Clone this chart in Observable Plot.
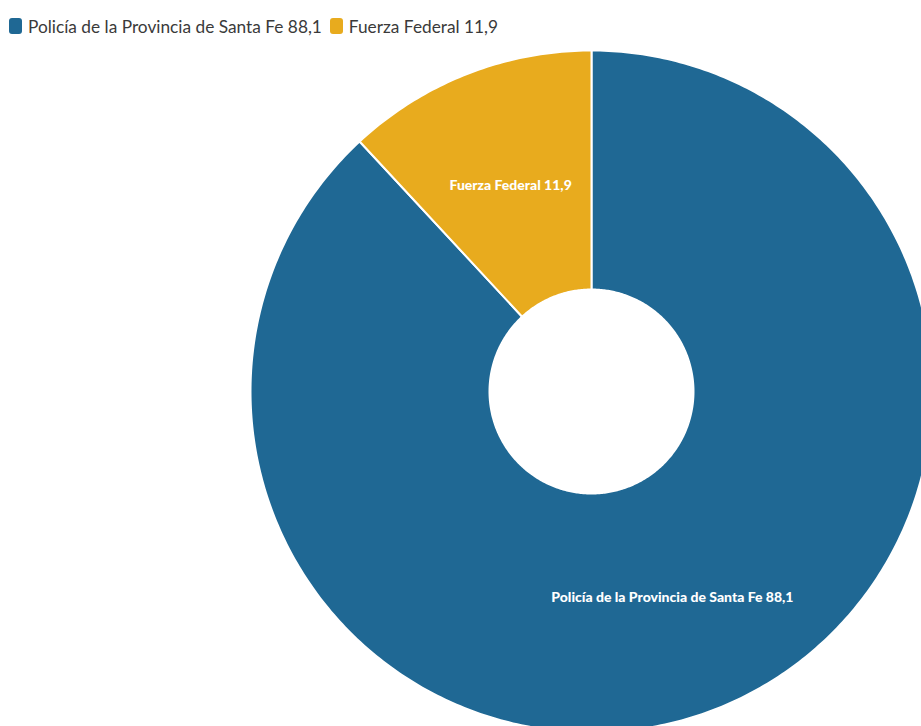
<!DOCTYPE html>
<html>
<head>
<meta charset="utf-8">
<script src="https://cdn.jsdelivr.net/npm/d3@7"></script>
<script src="https://cdn.jsdelivr.net/npm/@observablehq/plot@0.6"></script>
<style>
  html, body { margin: 0; padding: 0; background: #fff; overflow: hidden; }
  #legend { height: 40px; box-sizing: border-box; padding: 12px 0 0 9px; font-family: Lato, "Open Sans", sans-serif; font-size: 17.3px; color: #3a3a3a; display: flex; align-items: center; white-space: nowrap; }
  .item { display: flex; align-items: center; margin-right: 8px; }
  .sw { width: 13px; height: 16px; border-radius: 3px; margin-right: 6px; }
  #chart svg { display: block; }
</style>
</head>
<body>
<div id="legend"></div>
<div id="chart"></div>
<script>
const categories = ["Policía de la Provincia de Santa Fe", "Fuerza Federal"];
const values = [88.1, 11.9];
const valueLabels = ["88,1", "11,9"];
const colors = ["#1f6894", "#e8ab1e"];

const W = 921, H = 686;
const cx = 591, cy = 351;      // donut centre within the svg (px)
const rOuter = 341, rInner = 102;

// legend
const legend = document.getElementById("legend");
categories.forEach((c, i) => {
  const it = document.createElement("div");
  it.className = "item";
  it.innerHTML = `<span class="sw" style="background:${colors[i]}"></span><span>${c} ${valueLabels[i]}</span>`;
  legend.appendChild(it);
});

// build slices from data
const pie = d3.pie().sort(null).value(d => d)(values);
const poly = [];
const labels = [];
pie.forEach((p, i) => {
  const steps = Math.max(8, Math.ceil((p.endAngle - p.startAngle) * 80));
  const pt = (a, r) => ({x: r * Math.sin(a), y: r * Math.cos(a), cat: categories[i]});
  for (let k = 0; k <= steps; k++) poly.push(pt(p.startAngle + (p.endAngle - p.startAngle) * k / steps, rOuter));
  for (let k = steps; k >= 0; k--) poly.push(pt(p.startAngle + (p.endAngle - p.startAngle) * k / steps, rInner));
  poly.push(pt(p.startAngle, rOuter));
  const mid = (p.startAngle + p.endAngle) / 2, rm = (rOuter + rInner) / 2;
  labels.push({x: rm * Math.sin(mid), y: rm * Math.cos(mid), text: `${categories[i]} ${valueLabels[i]}`});
});

const chart = Plot.plot({
  width: W, height: H,
  margin: 0,
  style: {overflow: "hidden"},
  x: {domain: [-cx, W - cx], axis: null},
  y: {domain: [-(H - cy), cy], axis: null},
  color: {domain: categories, range: colors},
  marks: [
    Plot.line(poly, {x: "x", y: "y", z: "cat", fill: "cat", stroke: "#fff", strokeWidth: 2, curve: "linear"}),
    Plot.text(labels, {x: "x", y: "y", text: "text", fill: "#fff", fontWeight: 900, fontSize: 14, fontFamily: "Lato, sans-serif"})
  ]
});
document.getElementById("chart").appendChild(chart);
</script>
</body>
</html>
